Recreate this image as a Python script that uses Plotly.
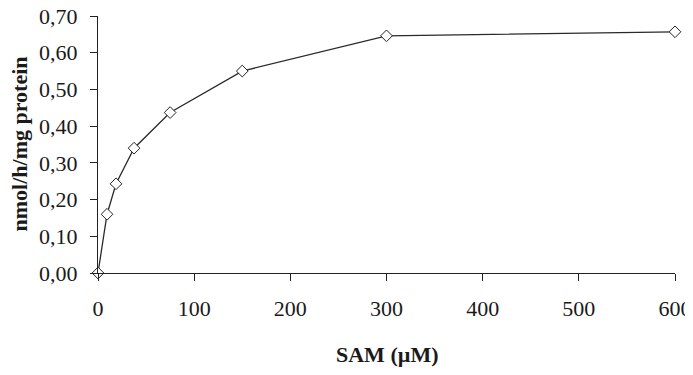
import plotly.graph_objects as go

sam_uM = [0, 9.375, 18.75, 37.5, 75, 150, 300, 600]
activity = [0.0, 0.16, 0.243, 0.34, 0.437, 0.55, 0.646, 0.657]
x_ticks = [0, 100, 200, 300, 400, 500, 600]
y_ticks = [0.0, 0.1, 0.2, 0.3, 0.4, 0.5, 0.6, 0.7]

fig = go.Figure()
fig.add_trace(go.Scatter(
    x=sam_uM, y=activity, mode="lines+markers",
    line=dict(color="#2a2a2a", width=1.3),
    marker=dict(symbol="diamond", size=9, color="white",
                line=dict(color="#222222", width=1)),
    cliponaxis=False, showlegend=False,
))

font_family = "Liberation Serif"
fig.update_layout(
    width=685, height=367,
    margin=dict(l=90, r=18, t=8, b=102, autoexpand=False),
    paper_bgcolor="white", plot_bgcolor="white",
    separators=", ",
    font=dict(family=font_family, color="#1a1a1a", size=22),
)
fig.update_xaxes(
    range=[0, 600], tickvals=x_ticks, showgrid=False, zeroline=False,
    showline=True, linecolor="#222222", linewidth=1.3, automargin=False,
    ticks="outside", ticklen=7, tickwidth=1.2, tickcolor="#222222",
    tickfont=dict(family=font_family, size=22),
    ticklabelstandoff=8, ticklabeloverflow="allow",
)
fig.update_yaxes(
    range=[0, 0.7], tickvals=y_ticks, tickformat=".2f", showgrid=False, zeroline=False,
    showline=True, linecolor="#222222", linewidth=1.3, automargin=False,
    ticks="outside", ticklen=7, tickwidth=1.2, tickcolor="#222222",
    tickfont=dict(family=font_family, size=22),
    ticklabelstandoff=8, ticklabeloverflow="allow",
)
fig.add_annotation(
    text="<b>SAM (µM)</b>", xref="paper", yref="paper", x=0.5, y=0,
    xanchor="center", yanchor="middle", yshift=-81, showarrow=False,
    font=dict(family=font_family, size=22, color="#1a1a1a"),
)
fig.add_annotation(
    text="<b>nmol/h/mg protein</b>", xref="paper", yref="paper", x=0, y=0.5,
    xanchor="center", yanchor="middle", xshift=-79, textangle=-90, showarrow=False,
    font=dict(family=font_family, size=22, color="#1a1a1a"),
)
fig.write_html("out.html")
